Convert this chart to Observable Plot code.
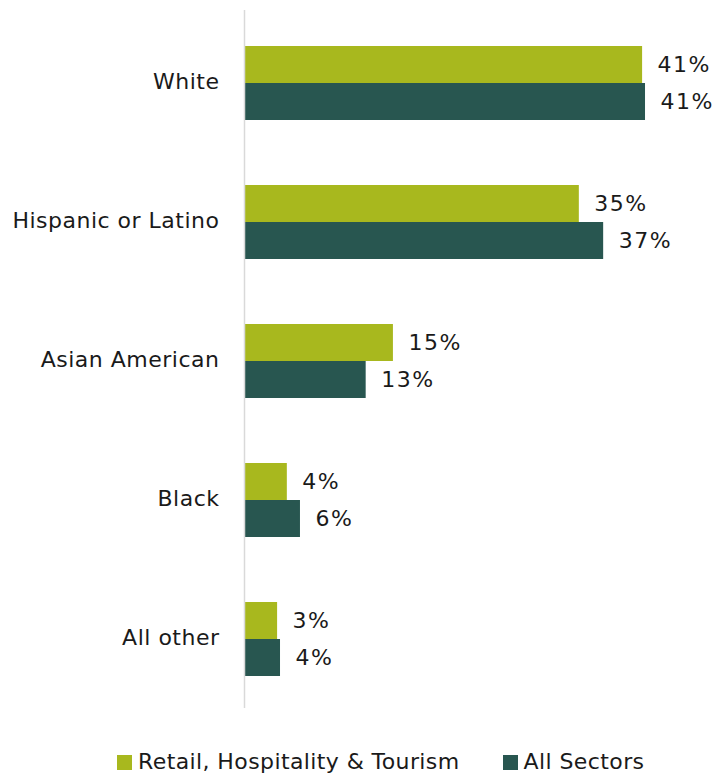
<!DOCTYPE html>
<html>
<head>
<meta charset="utf-8">
<script src="https://cdn.jsdelivr.net/npm/d3@7"></script>
<script src="https://cdn.jsdelivr.net/npm/@observablehq/plot@0.6"></script>
<style>
  body { margin: 0; background: #fff; font-family: "DejaVu Sans", sans-serif; }
  #chart { width: 725px; }
  #chart svg text { letter-spacing: 0.5px; }
  #chart svg .pct text { letter-spacing: 1.5px; }
  .legend { display: flex; justify-content: flex-start; align-items: center; gap: 43px; font-size: 22px; color: #1a1a1a; margin-top: 29px; margin-left: 117px; letter-spacing: 0.4px; line-height: 26px; }
  .legend span.item { display: flex; align-items: center; gap: 6px; }
  .legend .sw { width: 15px; height: 15px; display: inline-block; }
</style>
</head>
<body>
<div id="chart"></div>
<script>
const categories = ["White", "Hispanic or Latino", "Asian American", "Black", "All other"];
const seriesNames = ["Retail, Hospitality & Tourism", "All Sectors"];
const retailValues = [40.9, 34.4, 15.3, 4.4, 3.4];
const allValues = [41.2, 36.9, 12.5, 5.75, 3.7];
const retailLabels = ["41%", "35%", "15%", "4%", "3%"];
const allLabels = ["41%", "37%", "13%", "6%", "4%"];
const colors = ["#a8b81e", "#285650"];

const retail = categories.map((c, i) => ({category: c, value: retailValues[i], label: retailLabels[i]}));
const all = categories.map((c, i) => ({category: c, value: allValues[i], label: allLabels[i]}));

const chart = Plot.plot({
  width: 725,
  height: 720,
  marginLeft: 244,
  marginRight: 43,
  marginTop: 10,
  marginBottom: 12,
  style: {fontFamily: "'DejaVu Sans', sans-serif", fontSize: "22px", color: "#1a1a1a"},
  x: {domain: [0, 45], axis: null},
  y: {domain: categories, padding: 0, label: null, tickSize: 0, tickPadding: 25},
  marks: [
    Plot.barX(retail, {y: "category", x: "value", fill: colors[0], insetTop: 34, insetBottom: 68}),
    Plot.barX(all, {y: "category", x: "value", fill: colors[1], insetTop: 71, insetBottom: 31}),
    Plot.text(retail, {y: "category", x: "value", text: "label", textAnchor: "start", dx: 15, dy: -17, fontSize: 22, fill: "#1a1a1a", className: "pct"}),
    Plot.text(all, {y: "category", x: "value", text: "label", textAnchor: "start", dx: 15, dy: 20, fontSize: 22, fill: "#1a1a1a", className: "pct"}),
    Plot.ruleX([0], {stroke: "#d9d9d9", strokeWidth: 1.5})
  ]
});
document.getElementById("chart").appendChild(chart);

const legend = document.createElement("div");
legend.className = "legend";
seriesNames.forEach((s, i) => {
  const item = document.createElement("span");
  item.className = "item";
  const sw = document.createElement("span");
  sw.className = "sw";
  sw.style.background = colors[i];
  const t = document.createElement("span");
  t.textContent = s;
  item.appendChild(sw);
  item.appendChild(t);
  legend.appendChild(item);
});
document.getElementById("chart").appendChild(legend);
</script>
</body>
</html>
